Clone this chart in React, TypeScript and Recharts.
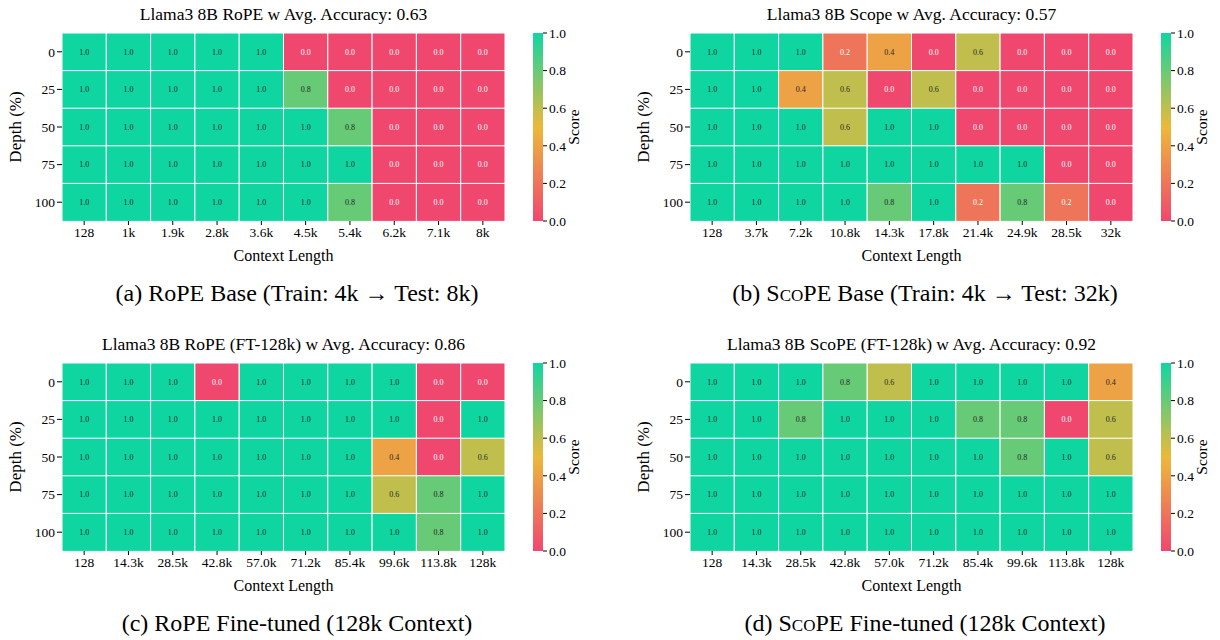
import React from "react";
import { BarChart, Bar, XAxis, YAxis, Cell, LabelList } from "recharts";

const SERIF = '"Liberation Serif", "DejaVu Serif", serif';

const DEPTHS = ["0", "25", "50", "75", "100"];

const ropeBaseLengths = ["128", "1k", "1.9k", "2.8k", "3.6k", "4.5k", "5.4k", "6.2k", "7.1k", "8k"];
const scopeBaseLengths = ["128", "3.7k", "7.2k", "10.8k", "14.3k", "17.8k", "21.4k", "24.9k", "28.5k", "32k"];
const fineTunedLengths = ["128", "14.3k", "28.5k", "42.8k", "57.0k", "71.2k", "85.4k", "99.6k", "113.8k", "128k"];

// rows = depth 0..100, columns = context lengths
const ropeBaseScores = [
  [1, 1, 1, 1, 1, 0, 0, 0, 0, 0],
  [1, 1, 1, 1, 1, 0.8, 0, 0, 0, 0],
  [1, 1, 1, 1, 1, 1, 0.8, 0, 0, 0],
  [1, 1, 1, 1, 1, 1, 1, 0, 0, 0],
  [1, 1, 1, 1, 1, 1, 0.8, 0, 0, 0],
];
const scopeBaseScores = [
  [1, 1, 1, 0.2, 0.4, 0, 0.6, 0, 0, 0],
  [1, 1, 0.4, 0.6, 0, 0.6, 0, 0, 0, 0],
  [1, 1, 1, 0.6, 1, 1, 0, 0, 0, 0],
  [1, 1, 1, 1, 1, 1, 1, 1, 0, 0],
  [1, 1, 1, 1, 0.8, 1, 0.2, 0.8, 0.2, 0],
];
const ropeFtScores = [
  [1, 1, 1, 0, 1, 1, 1, 1, 0, 0],
  [1, 1, 1, 1, 1, 1, 1, 1, 0, 1],
  [1, 1, 1, 1, 1, 1, 1, 0.4, 0, 0.6],
  [1, 1, 1, 1, 1, 1, 1, 0.6, 0.8, 1],
  [1, 1, 1, 1, 1, 1, 1, 1, 0.8, 1],
];
const scopeFtScores = [
  [1, 1, 1, 0.8, 0.6, 1, 1, 1, 1, 0.4],
  [1, 1, 0.8, 1, 1, 1, 0.8, 0.8, 0, 0.6],
  [1, 1, 1, 1, 1, 1, 1, 0.8, 1, 0.6],
  [1, 1, 1, 1, 1, 1, 1, 1, 1, 1],
  [1, 1, 1, 1, 1, 1, 1, 1, 1, 1],
];

const CBAR_TICKS = [0, 0.2, 0.4, 0.6, 0.8, 1];

// red -> amber -> green colormap
const STOPS: [number, number[]][] = [
  [0, [240, 71, 111]],
  [0.5, [236, 185, 58]],
  [1, [15, 214, 160]],
];

function scoreColor(v: number) {
  for (let i = 0; i < STOPS.length - 1; i++) {
    const [a, ca] = STOPS[i];
    const [b, cb] = STOPS[i + 1];
    if (v <= b) {
      const t = (v - a) / (b - a);
      const c = ca.map((x, k) => Math.round(x + (cb[k] - x) * t));
      return `rgb(${c[0]},${c[1]},${c[2]})`;
    }
  }
  const c = STOPS[STOPS.length - 1][1];
  return `rgb(${c[0]},${c[1]},${c[2]})`;
}

const CellText = (props: any) => {
  const { x, y, width, height, value } = props;
  return (
    <text
      x={x + width / 2}
      y={y + height / 2}
      textAnchor="middle"
      dominantBaseline="central"
      fontSize={8}
      fontFamily={SERIF}
      fill={value < 0.3 ? "#ffffff" : "#262626"}
    >
      {Number(value).toFixed(1)}
    </text>
  );
};

const tickStyle = { fontSize: 13.5, fill: "#000", fontFamily: SERIF };

function Heatmap({ id, left, top, title, caption, xLabels, scores }: any) {
  const rows = DEPTHS.map((d, r) => {
    const row: any = { depth: d };
    xLabels.forEach((_: string, c: number) => {
      row[`c${c}`] = 1;
      row[`s${c}`] = scores[r][c];
    });
    return row;
  });
  const xTicks = xLabels.map((_: string, i: number) => i + 0.5);

  return (
    <div style={{ position: "absolute", left, top, width: 620, height: 330, fontFamily: SERIF, color: "#000" }}>
      <div style={{ position: "absolute", left: 62, width: 443, top: 4, textAlign: "center", fontSize: 17.5, lineHeight: "20px", whiteSpace: "nowrap" }}>
        {title}
      </div>
      <div
        style={{
          position: "absolute",
          left: 16,
          top: 127,
          transform: "translate(-50%, -50%) rotate(-90deg)",
          fontSize: 17,
          whiteSpace: "nowrap",
        }}
      >
        Depth (%)
      </div>

      <div style={{ position: "absolute", left: 0, top: 0 }}>
        <BarChart
          width={520}
          height={270}
          data={rows}
          layout="vertical"
          margin={{ top: 33, right: 15, bottom: 4, left: 0 }}
          barCategoryGap={0}
          barGap={0}
        >
          <XAxis
            type="number"
            domain={[0, xLabels.length]}
            ticks={xTicks}
            interval={0}
            tickFormatter={(v: number) => xLabels[Math.floor(v)]}
            axisLine={false}
            tickLine={{ stroke: "#000" }}
            tickSize={4}
            tick={tickStyle}
            height={45}
            label={{ value: "Context Length", position: "insideBottom", offset: 5, fontSize: 16, fill: "#000", fontFamily: SERIF }}
          />
          <YAxis
            type="category"
            dataKey="depth"
            width={62}
            axisLine={false}
            tickLine={{ stroke: "#000" }}
            tickSize={5}
            tick={tickStyle}
            interval={0}
          />
          {xLabels.map((_: string, c: number) => (
            <Bar key={c} dataKey={`c${c}`} stackId="cells" isAnimationActive={false}>
              {rows.map((row: any, r: number) => (
                <Cell key={r} fill={scoreColor(row[`s${c}`])} stroke="#ffffff" strokeWidth={1} />
              ))}
              <LabelList dataKey={`s${c}`} content={CellText} />
            </Bar>
          ))}
        </BarChart>
      </div>

      {/* colorbar */}
      <div style={{ position: "absolute", left: 533, top: 0 }}>
        <BarChart
          width={80}
          height={270}
          data={[{ k: "score", v: 1 }]}
          margin={{ top: 33, right: 0, bottom: 49, left: 0 }}
          barCategoryGap={0}
        >
          <XAxis dataKey="k" type="category" hide />
          <YAxis
            orientation="right"
            type="number"
            domain={[0, 1]}
            ticks={CBAR_TICKS}
            interval={0}
            tickFormatter={(v: number) => v.toFixed(1)}
            width={70}
            axisLine={false}
            tickLine={{ stroke: "#000" }}
            tickSize={4}
            tick={tickStyle}
          />
          <Bar dataKey="v" fill={`url(#cbar-${id})`} isAnimationActive={false} />
        </BarChart>
      </div>
      <div
        style={{
          position: "absolute",
          left: 574,
          top: 127,
          transform: "translate(-50%, -50%) rotate(-90deg)",
          fontSize: 15.5,
          whiteSpace: "nowrap",
        }}
      >
        Score
      </div>

      <div style={{ position: "absolute", left: 0, width: 594, top: 279, textAlign: "center", fontSize: 24, lineHeight: "28px", whiteSpace: "nowrap" }}>
        {caption}
      </div>
    </div>
  );
}

export default function App() {
  const ids = ["a", "b", "c", "d"];
  return (
    <div style={{ position: "absolute", left: 0, top: 0, width: 1220, height: 640, background: "#fff", overflow: "hidden" }}>
      <svg width={0} height={0} style={{ position: "absolute" }}>
        <defs>
          {ids.map((id) => (
            <linearGradient key={id} id={`cbar-${id}`} x1="0" y1="0" x2="0" y2="1">
              <stop offset="0%" stopColor={scoreColor(1)} />
              <stop offset="50%" stopColor={scoreColor(0.5)} />
              <stop offset="100%" stopColor={scoreColor(0)} />
            </linearGradient>
          ))}
        </defs>
      </svg>
      <Heatmap
        id="a"
        left={0}
        top={0}
        title="Llama3 8B RoPE w Avg. Accuracy: 0.63"
        caption={<>(a) RoPE Base (Train: 4k → Test: 8k)</>}
        xLabels={ropeBaseLengths}
        scores={ropeBaseScores}
      />
      <Heatmap
        id="b"
        left={628}
        top={0}
        title="Llama3 8B Scope w Avg. Accuracy: 0.57"
        caption={<>(b) <span style={{ fontVariant: "small-caps" }}>ScoPE</span> Base (Train: 4k → Test: 32k)</>}
        xLabels={scopeBaseLengths}
        scores={scopeBaseScores}
      />
      <Heatmap
        id="c"
        left={0}
        top={330}
        title="Llama3 8B RoPE (FT-128k) w Avg. Accuracy: 0.86"
        caption={<>(c) RoPE Fine-tuned (128k Context)</>}
        xLabels={fineTunedLengths}
        scores={ropeFtScores}
      />
      <Heatmap
        id="d"
        left={628}
        top={330}
        title="Llama3 8B ScoPE (FT-128k) w Avg. Accuracy: 0.92"
        caption={<>(d) <span style={{ fontVariant: "small-caps" }}>ScoPE</span> Fine-tuned (128k Context)</>}
        xLabels={fineTunedLengths}
        scores={scopeFtScores}
      />
    </div>
  );
}
